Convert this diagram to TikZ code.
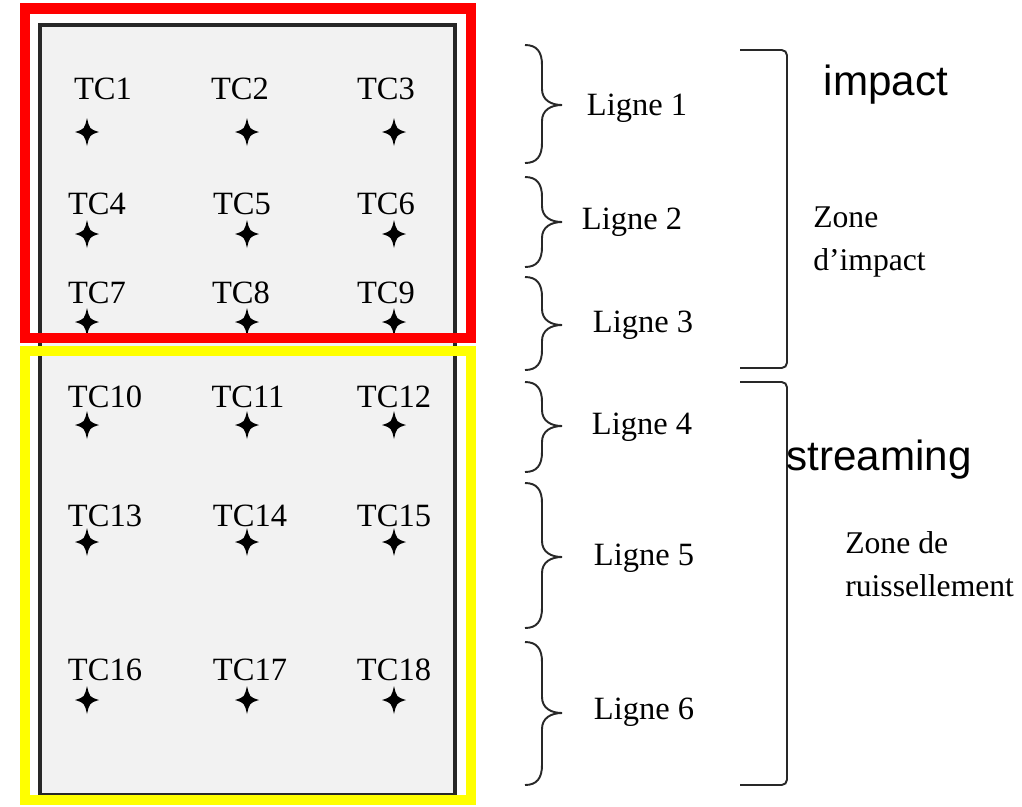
\documentclass[tikz,border=0pt]{standalone}
\usepackage{fontspec}
\setmainfont{Liberation Serif}
\newfontfamily\arialfont{Liberation Sans}
\usepackage{tikz}
\usetikzlibrary{positioning}
\definecolor{zonered}{RGB}{255,0,0}
\definecolor{zoneyellow}{RGB}{255,255,0}
\definecolor{platefill}{RGB}{242,242,242}
\definecolor{linegray}{RGB}{40,40,40}

\begin{document}
\begin{tikzpicture}[x=0.02cm, y=-0.02cm,
  tclabel/.style={font=\fontsize{18.5}{20}\selectfont, inner sep=0pt},
  lignelabel/.style={font=\fontsize{18.5}{20}\selectfont, inner sep=0pt},
  zonelabel/.style={font=\fontsize{18}{24.5}\selectfont, align=left, anchor=west, inner sep=0pt},
  englabel/.style={font=\arialfont\fontsize{24}{28}\selectfont, inner sep=0pt},
  bracepath/.style={draw=linegray, line width=1.1pt},
  zonebox/.style={line width=5.7pt}]

\useasboundingbox (0,0) rectangle (1022,806);

% Plate
\draw[fill=platefill, draw=linegray, line width=1.9pt] (40,25) rectangle (455,795);

% Thermocouple labels
\foreach \n/\x/\y in {1/103/89, 2/240/89, 3/386/89,
                      4/97/204, 5/242/204, 6/386/204,
                      7/97/293, 8/241/293, 9/386/293,
                      10/105/397, 11/248/397, 12/394/397,
                      13/105/516, 14/250/516, 15/394/516,
                      16/105/670, 17/250/670, 18/394/670}
  \node[tclabel] (tc\n) at (\x,\y) {TC\n};

% Thermocouple markers
\foreach \y in {132,234,322,425,542,700}
  \foreach \x in {87,247,394}
    \fill[black, shift={(\x,\y)}] (0,-14) .. controls (2.5,-3) .. (12,0)
      .. controls (2.5,3) .. (0,14) .. controls (-2.5,3) .. (-12,0)
      .. controls (-2.5,-3) .. cycle;

% Zones
\draw[zonebox, zonered] (25,8.5) rectangle (471,338);
\draw[zonebox, zoneyellow] (25,351) rectangle (471,800);

% Line braces
\foreach \t/\m/\b in {45/105/163, 177/222/267, 277/325/370,
                      382/426/472, 483/557/628, 642/713/785}
  \draw[bracepath] (525,\t) .. controls (537,\t) and (542,\t+7) .. (542,\t+20)
    -- (542,\m-16) .. controls (542,\m-5) and (551,\m) .. (562,\m)
    .. controls (551,\m) and (542,\m+5) .. (542,\m+16)
    -- (542,\b-20) .. controls (542,\b-7) and (537,\b) .. (525,\b);

\node[lignelabel] (ligne1) at (637,108) {Ligne 1};
\node[lignelabel] (ligne2) at (632,222) {Ligne 2};
\node[lignelabel] (ligne3) at (643,325) {Ligne 3};
\node[lignelabel] (ligne4) at (642,427) {Ligne 4};
\node[lignelabel] (ligne5) at (644,558) {Ligne 5};
\node[lignelabel] (ligne6) at (644,712) {Ligne 6};

% Zone brackets
\draw[bracepath, rounded corners=3pt] (740,50) -- (787,50) -- (787,368) -- (740,368);
\draw[bracepath, rounded corners=3pt] (740,382) -- (787,382) -- (787,785) -- (740,785);

\node[zonelabel] (impactzone) at (813,242) {Zone\\d’impact};
\node[zonelabel] (runoffzone) at (845,564) {Zone de\\ruissellement};

\node[englabel] (impact) at (886,85) {impact};
\node[englabel] (streaming) at (879,460) {streaming};

\end{tikzpicture}
\end{document}
